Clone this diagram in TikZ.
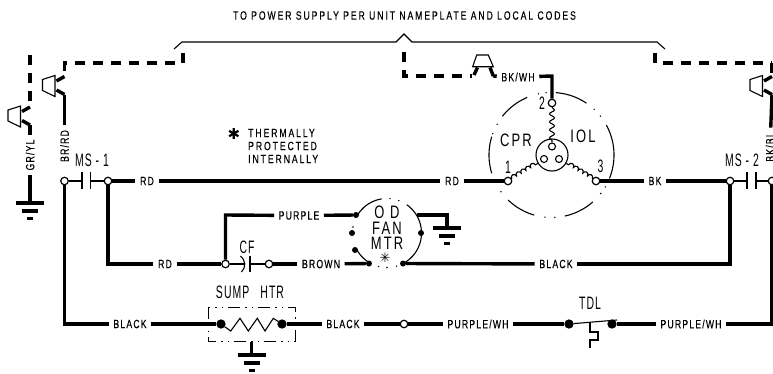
\documentclass[tikz,border=0pt]{standalone}
\usepackage{fontspec}
\usetikzlibrary{decorations.pathmorphing}
\newfontfamily\smallf[FakeStretch=0.72,LetterSpace=10,FakeBold=0.4]{Liberation Sans}
\newfontfamily\titlef[FakeStretch=0.72,LetterSpace=16,FakeBold=0.3]{Liberation Sans}
\newfontfamily\bigf[FakeStretch=0.72,LetterSpace=12]{Liberation Sans}
\newfontfamily\bign[FakeStretch=0.58,LetterSpace=6]{Liberation Sans}
\newfontfamily\symf{DejaVu Sans}
\tikzset{
 wire/.style={line width=3.4pt},
 thin line/.style={line width=1.1pt},
 dwire/.style={line width=3.4pt,dash pattern=on 10pt off 8pt},
 oterm/.style={circle,draw,line width=1.2pt,fill=white,inner sep=0pt,minimum size=7.5pt},
 bterm/.style={circle,draw,line width=1.2pt,fill=black,inner sep=0pt,minimum size=8pt},
 dotn/.style={circle,fill=black,inner sep=0pt,minimum size=6pt},
 lab/.style={font=\smallf\fontsize{12}{12}\selectfont,inner xsep=4.5pt,inner ysep=2pt},
 vlab/.style={lab,rotate=90},
 big/.style={font=\bigf\fontsize{18}{18}\selectfont,inner sep=0pt},
 bignar/.style={font=\bign\fontsize{18}{18}\selectfont,inner sep=0pt},
 note/.style={font=\titlef\fontsize{12}{12}\selectfont,inner sep=0pt,anchor=west},
 plug/.pic={
  \draw[line width=1.1pt] (-22,-6)--(-9.5,-10)--(-9.5,11)--(-22,5)--cycle;
  \draw[wire] (-8,-4.5)--(0,-9);
  \draw[wire] (-8,4.5)--(0,9);
 },
 gnd/.pic={
  \draw[wire] (-14,0)--(14,0);
  \draw[wire] (-8,8)--(8,8);
  \draw[wire] (-3,15.5)--(3,15.5);
 },
}
\newcommand{\ringarc}[5]{\draw[line width=1.1pt] plot[domain=#4:#5,samples=24,smooth] ({#1+#3*cos(\x)},{#2+#3*sin(\x)});}
\newcommand{\ringdot}[4]{\fill ({#1+#3*cos(#4)},{#2+#3*sin(#4)}) circle (0.8pt);}
\begin{document}
\begin{tikzpicture}[x=1pt,y=-1pt]
\useasboundingbox (0,0) rectangle (773,373);
\clip (0,0) rectangle (773,373);
% title and brace
\node[font=\titlef\fontsize{12}{12}\selectfont,inner sep=0pt] (title) at (404.5,15.5) {TO POWER SUPPLY PER UNIT NAMEPLATE AND LOCAL CODES};
\draw[line width=1.1pt] (174,49)--(182,42)--(396,42)--(404,34)--(412,42)--(657,42)--(665,49);
% terminals
\node[oterm] (ms1a) at (64.5,181) {};
\node[oterm] (ms1b) at (108,181) {};
\node[oterm] (c1) at (508,181) {};
\node[oterm] (c3) at (596,181) {};
\node[oterm] (c2) at (552,103) {};
\node[oterm] (ms2a) at (730,181) {};
\node[oterm] (ms2b) at (772,181) {};
\node[oterm] (cfa) at (225.5,264) {};
\node[oterm] (cfb) at (269,264) {};
\node[oterm] (splice) at (404,324) {};
\node[bterm] (ha) at (221,324) {};
\node[bterm] (hb) at (282,324) {};
\node[bterm] (ta) at (569,324) {};
\node[bterm] (tb) at (612,324) {};
\node[dotn] (fp) at (356,215) {};
\node[dotn] (fg) at (421,233) {};
\node[dotn] (fb) at (369,263.5) {};
\node[dotn] (fk) at (403,263.5) {};
\node[dotn] (fx) at (355,250) {};
\node[dotn] (fy) at (352,233) {};
% corner coordinates
\coordinate (gtop) at (30,55);
\coordinate (gp1) at (30,107);
\coordinate (gp2) at (30,125);
\coordinate (gbar) at (30,203);
\coordinate (brtop) at (183,53);
\coordinate (brcorner) at (64.5,63);
\coordinate (brp1) at (64.5,76.5);
\coordinate (brp2) at (64.5,94.5);
\coordinate (mtop) at (404,52);
\coordinate (mcorner) at (404,76);
\coordinate (mp1) at (472,76);
\coordinate (mp2) at (493,76);
\coordinate (mwire) at (552,76);
\coordinate (rtop) at (655,53);
\coordinate (rcorner) at (655,63);
\coordinate (rend) at (772,63);
\coordinate (rp1) at (772,76.5);
\coordinate (rp2) at (772,94.5);
\coordinate (pcorner) at (225.5,215);
\coordinate (blc) at (64.5,324);
\coordinate (rdc) at (108,264);
\coordinate (ms2c) at (730,264);
\coordinate (rbc) at (772,324);
\coordinate (fgc) at (447,215);
\coordinate (fgb) at (447,228);
\coordinate (fg0) at (417,215);
\coordinate (sgt) at (251.5,342);
\coordinate (sgb) at (251.5,355);
% labels
\node[vlab] (grl) at (30,155) {GR/YL};
\node[vlab] (brl) at (64.5,146) {BR/RD};
\node[vlab] (bkl) at (770,147) {BK/BL};
\node[lab] (rd1) at (147,181) {RD};
\node[lab] (rd2) at (452,181) {RD};
\node[lab] (bk) at (655,181) {BK};
\node[lab] (bw) at (518,77) {BK/WH};
\node[lab] (pu) at (299,215.5) {PURPLE};
\node[lab] (rd3) at (165,264) {RD};
\node[lab] (brn) at (321,264) {BROWN};
\node[lab] (blk1) at (556,264) {BLACK};
\node[lab] (blk2) at (130,324) {BLACK};
\node[lab] (blk3) at (343,324) {BLACK};
\node[lab] (pw1) at (478,324) {PURPLE/WH};
\node[lab] (pw2) at (691,324) {PURPLE/WH};
\node[bignar] (ms1) at (92,160) {MS - 1};
\node[bignar] (ms2) at (742,160) {MS - 2};
\node[big] (cpr) at (516,140) {CPR};
\node[big] (iol) at (583,136) {IOL};
\node[bignar] (n1) at (508,167) {1};
\node[bignar] (n2) at (542,103) {2};
\node[bignar] (n3) at (600.5,166) {3};
\node[big] (od) at (387,212) {O D};
\node[big] (fan) at (387,228) {FAN};
\node[big] (mtr) at (387,243) {MTR};
\node[font=\symf\fontsize{13}{13}\selectfont,inner sep=0pt] (ast) at (385,257.5) {✳};
\node[bignar] (cf) at (247,247) {CF};
\node[bignar] (sump) at (250,292) {SUMP\hspace{11pt}HTR};
\node[bignar] (tdl) at (590,303) {TDL};
\node[font=\symf\fontsize{15}{15}\selectfont,inner sep=0pt] (ast2) at (234,134) {✱};
\node[note] (n4) at (248,133) {THERMALLY};
\node[note] (n5) at (248,146) {PROTECTED};
\node[note] (n6) at (248,159) {INTERNALLY};
% dashed supply wires
\draw[dwire] (gtop)--(gp1);
\draw[dwire] (brtop)--(183,63)--(brcorner)--(brp1);
\draw[dwire] (mtop)--(mcorner)--(mp1);
\draw[dwire] (rtop)--(rcorner)--(rend);
\draw[dwire] (rend)--(rp1);
% plugs
\pic at (30,116) {plug};
\pic at (64.5,85.5) {plug};
\pic at (772,85.5) {plug};
\draw[line width=1.1pt] (476.7,55)--(488.3,55)--(493.3,66.7)--(472.7,66.7)--cycle;
\draw[wire] (474,75)--(477.5,67.5);
\draw[wire] (490,67.5)--(493.3,76);
% solid wires
\draw[wire] (gp2)--(grl);
\draw[wire] (grl)--(gbar);
\pic at (gbar) {gnd};
\draw[wire] (brp2)--(brl);
\draw[wire] (rp2)--(bkl);
\draw[wire] (ms1a)--(blc)--(blk2);
\draw[wire] (blk2)--(ha);
\draw[wire] (hb)--(blk3);
\draw[wire] (blk3)--(splice);
\draw[wire] (splice)--(pw1);
\draw[wire] (pw1)--(ta);
\draw[wire] (tb)--(pw2);
\draw[wire] (pw2)--(rbc)--(ms2b);
\draw[wire] (ms1b)--(rd1);
\draw[wire] (rd1)--(rd2);
\draw[wire] (rd2)--(c1);
\draw[wire] (c3)--(bk);
\draw[wire] (bk)--(ms2a);
\draw[wire] (mp2)--(bw);
\draw[wire] (bw)--(mwire)--(c2);
\draw[wire] (ms1b)--(rdc)--(rd3);
\draw[wire] (rd3)--(cfa);
\draw[wire] (cfa)--(pcorner)--(pu);
\draw[wire] (pu)--(fp);
\draw[wire] (cfb)--(brn);
\draw[wire] (brn)--(fb);
\draw[wire] (fk)--(blk1);
\draw[wire] (blk1)--(ms2c)--(ms2a);
\draw[wire] (fg0)--(fgc)--(fgb);
\pic at (fgb) {gnd};
\draw[wire] (sgt)--(sgb);
\pic at (sgb) {gnd};
% contactors
\coordinate (k1) at (82,181);
\coordinate (k2) at (90.5,181);
\draw[thin line] (ms1a)--(k1);
\draw[thin line] (k2)--(ms1b);
\draw[thin line] (82,172)--(82,189);
\draw[thin line] (90.5,172)--(90.5,189);
\coordinate (k3) at (747,181);
\coordinate (k4) at (756,181);
\draw[thin line] (ms2a)--(k3);
\draw[thin line] (k4)--(ms2b);
\draw[thin line] (747,172)--(747,189);
\draw[thin line] (756,172)--(756,189);
% capacitor
\coordinate (cc1) at (245,264);
\coordinate (cc2) at (250,264);
\draw[thin line] (cfa)--(cc1);
\draw[thin line] (cc2)--(cfb);
\draw[thin line] (250,256)--(250,272);
\draw[thin line] (240.5,256) .. controls (246,261) and (246,267) .. (241.5,272);
% compressor
\node[circle,draw,line width=1.1pt,minimum size=32pt,inner sep=0pt] (core) at (552,155) {};
\node[circle,draw,line width=1.1pt,minimum size=7pt,inner sep=0pt] (s2) at (552,146.5) {};
\node[circle,draw,line width=1.1pt,minimum size=7pt,inner sep=0pt] (s1) at (544,159) {};
\node[circle,draw,line width=1.1pt,minimum size=7pt,inner sep=0pt] (s3) at (559,159) {};
\draw[thin line,decorate,decoration={snake,segment length=8pt,amplitude=2.5pt}] (c2)--(s2);
\draw[thin line,decorate,decoration={bumps,segment length=11pt,amplitude=3pt}] (c1)--(core);
\draw[thin line,decorate,decoration={bumps,mirror,segment length=11pt,amplitude=3pt}] (c3)--(core);
\ringarc{551.5}{155}{62.5}{-141.7}{-112.9}
\ringarc{551.5}{155}{62.5}{-86}{-56}
\ringarc{551.5}{155}{62.5}{-28.6}{22}
\ringarc{551.5}{155}{62.5}{48.6}{77.7}
\ringarc{551.5}{155}{62.5}{106}{134}
\ringarc{551.5}{155}{62.5}{163}{197}
\foreach \a in {-102,-95,-47,-38.5,30.7,38,87,96,144,-150.5,-160}{\ringdot{551.5}{155}{62.5}{\a}}
% fan motor
\ringarc{387}{233}{34.5}{-150}{-99}
\ringarc{387}{233}{34.5}{-55}{62}
\ringarc{387}{233}{34.5}{120}{153}
\foreach \a in {-85,-70,74,90,104,-170}{\ringdot{387}{233}{34.5}{\a}}
% sump heater
\draw[line width=1pt,dash pattern=on 12pt off 5pt on 1.5pt off 5pt on 1.5pt off 5pt] (208,307) rectangle (295,341);
\draw[thin line] (ha)--(230.7,331)--(240,318.3)--(248.3,331)--(257.3,318.3)--(265,331)--(273.3,318.3)--(hb);
% TDL
\coordinate (tsw) at (617,320);
\draw[thin line] (ta)--(tsw);
\draw[thin line] (590,322)--(590,332)--(598,332)--(598,340)--(590,340)--(590,348);
\end{tikzpicture}
\end{document}
